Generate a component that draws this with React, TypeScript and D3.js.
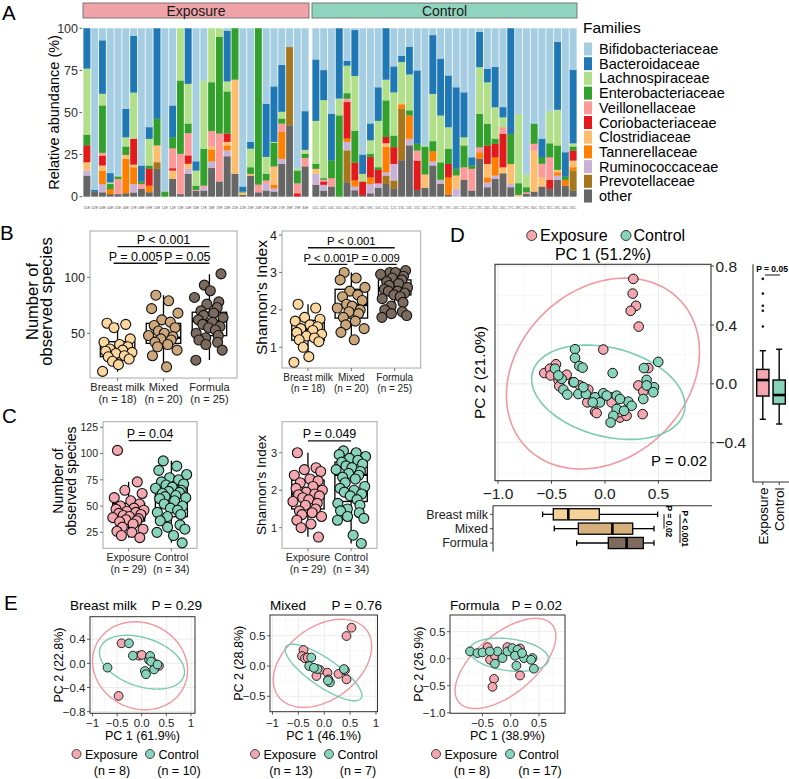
import React from "react";
import * as d3 from "d3";

const FONT = "'Liberation Sans', Arimo, Arial, Helvetica, sans-serif";

/* ================= Panel A data ================= */
const families = [
  "Bifidobacteriaceae", "Bacteroidaceae", "Lachnospiraceae", "Enterobacteriaceae",
  "Veillonellaceae", "Coriobacteriaceae", "Clostridiaceae", "Tannerellaceae",
  "Ruminococcaceae", "Prevotellaceae", "other",
];
const familyColors = [
  "#A6CEE3", "#1F78B4", "#B2DF8A", "#33A02C", "#FB9A99", "#E31A1C",
  "#FDBF6F", "#FF7F00", "#CAB2D6", "#A6761D", "#666666",
];
// stacking order (bottom -> top) = reversed legend order
const stackOrder = [...families].reverse();

const exposureSamples = [
  "01E", "02E", "03E", "04E", "05E", "06E", "07E", "08E", "09E", "10E", "11E", "12E", "13E", "14E",
  "16E", "17E", "18E", "19E", "20E", "21E", "22E", "23E", "24E", "25E", "26E", "27E", "28E", "29E", "30E",
];
const controlSamples = [
  "01C", "02C", "04C", "05C", "06C", "07C", "08C", "09C", "10C", "11C", "12C", "13C", "14C", "15C",
  "16C", "17C", "18C", "19C", "20C", "21C", "22C", "23C", "24C", "25C", "26C", "27C", "28C", "29C",
  "30C", "31C", "32C", "33C", "34C", "35C",
];
// each row: other, Prevotellaceae, Ruminococcaceae, Tannerellaceae, Clostridiaceae,
// Coriobacteriaceae, Veillonellaceae, Enterobacteriaceae, Lachnospiraceae, Bacteroidaceae, Bifidobacteriaceae
const exposureAbundance = [
  [12.5, 0, 3, 0, 5, 10, 0, 6.3, 39.3, 23.9, 0],
  [3, 0, 0, 0, 0, 0, 0, 0, 0, 1, 96],
  [2.6, 0, 4.9, 8, 3, 5.9, 1.6, 28.2, 6.9, 31.8, 7.1],
  [1.5, 0, 0, 3, 0, 0, 0, 3, 1, 5.5, 86],
  [1.5, 0, 0, 0, 0, 0, 9, 1.5, 0.5, 0, 87.5],
  [2, 0, 0, 20.4, 2.4, 0, 0, 5, 5.5, 16.9, 47.8],
  [2.5, 0, 5, 10, 1.5, 15.3, 0, 0, 27.5, 33.8, 4.4],
  [4.6, 0, 0, 0, 0, 0, 2.9, 1.5, 0, 9.5, 81.5],
  [2.6, 0, 0, 3.9, 0, 10, 0, 2, 15.8, 7, 58.7],
  [16.5, 4, 0, 0, 10, 0, 0, 15.8, 0, 53.7, 0],
  [0, 0, 0, 0, 0, 0, 0, 3, 0, 0, 97],
  [10.5, 0, 0, 0, 5, 1.4, 11.9, 6.5, 0, 18.9, 45.8],
  [1.5, 0, 0, 0, 0, 0, 23.9, 43.6, 31, 0, 0],
  [13.5, 0, 3, 0, 3, 5, 13.3, 5.6, 23.6, 33, 0],
  [3.5, 0, 0, 0, 0, 0, 0.5, 2.5, 9, 5.5, 79],
  [3.6, 0, 2, 0, 0, 0, 1, 21.8, 40.6, 0, 31],
  [17, 0, 4, 7, 2, 0, 9, 29, 32, 0, 0],
  [9, 0, 0, 0, 0, 0, 28.5, 57.5, 5, 0, 0],
  [24, 0, 3.5, 3, 2, 5, 0, 25, 6, 30, 1.5],
  [13.5, 0, 0, 0, 56, 0, 0, 30.5, 0, 0, 0],
  [1, 0, 0, 0, 1.5, 0, 0, 0.5, 0, 3, 94],
  [12.5, 0, 0, 0, 1, 0, 0, 4, 11, 4, 67.5],
  [2.6, 0, 0, 0, 0, 0, 4.5, 92.9, 0, 0, 0],
  [3.6, 0, 4, 0, 0, 0, 2, 4, 10, 31.5, 44.9],
  [3, 0, 2, 2, 10.5, 0, 0.5, 14, 0.5, 33, 34.5],
  [19.4, 0, 3, 16, 0, 0, 5, 3, 4, 27.8, 21.8],
  [42.3, 46.6, 0, 0, 0, 0, 0, 0, 0, 0, 11.1],
  [0, 0, 0, 0, 0, 2, 6, 7.5, 1, 0, 83.5],
  [18, 0, 0, 0, 0, 0, 5, 2.4, 2.4, 23, 49.2],
];
const controlAbundance = [
  [7, 0, 6.5, 0, 3, 0, 0, 3, 25.5, 36.5, 18.5],
  [3.5, 0, 3.5, 0, 0, 2, 1, 1, 46.4, 17.8, 24.8],
  [6, 0, 0, 0, 0, 0, 5, 10.5, 0, 27.8, 50.7],
  [0, 0, 0, 0, 0, 0, 0, 48.3, 10, 41.7, 0],
  [8.5, 19, 5, 2, 0, 21.7, 2, 3.3, 16.3, 2.8, 19.4],
  [3.8, 0, 2.2, 3.7, 0, 10.5, 0, 19, 32.5, 27.3, 1],
  [1, 0, 0, 0, 0, 8, 0, 0, 4.5, 11.5, 75],
  [2, 0, 5.5, 4, 0, 12, 0, 2, 8, 10, 56.5],
  [5.2, 0, 2.7, 0, 0, 8, 0, 1.6, 27.5, 20, 35],
  [7.5, 5, 2, 15, 2.3, 3.6, 0, 21.8, 12.3, 30.5, 0],
  [4.6, 4.9, 9.9, 0, 0, 10, 0, 6.9, 25.7, 15.4, 22.6],
  [21.6, 30.8, 0, 2.5, 0.5, 0, 0, 0, 24.6, 3.6, 16.4],
  [30.5, 0, 3.8, 14, 0, 0, 0, 3, 21.3, 16.5, 10.9],
  [4, 0, 0, 0, 0, 17.4, 6, 4, 0, 43.6, 25],
  [5.2, 0, 0, 0, 8, 0, 0, 16.5, 0.5, 0, 69.8],
  [18.5, 0, 2.5, 6, 0, 0, 0, 6, 28, 35, 4],
  [7.5, 0, 2.5, 0, 0, 0, 0, 10.4, 27.8, 33.8, 18],
  [1.2, 0, 0, 10.3, 0, 7.9, 0, 9, 12.9, 30.7, 28],
  [0, 0, 4.6, 0, 8, 0, 0, 4, 0, 48.4, 35],
  [9.9, 0, 0, 0, 0, 0, 7.6, 12.9, 4.9, 26.7, 38],
  [3.6, 0, 0, 0, 0, 0, 12.9, 2, 0, 4.9, 76.6],
  [22.4, 0, 0, 4, 0, 0, 3, 19.8, 27.8, 20.8, 2.2],
  [5.6, 0, 2.9, 3, 7.9, 11, 0, 12.9, 24.7, 8, 24],
  [10.5, 0, 2, 10.9, 0, 7.9, 0, 3, 18.9, 23.8, 23],
  [13.9, 0, 0, 0, 3.6, 19.8, 4, 0, 5.9, 6, 46.8],
  [5.6, 0, 1.9, 0, 11.9, 0, 0, 17.9, 0, 62.7, 0],
  [0, 0, 0, 0, 1, 0, 0, 7, 41, 0, 51],
  [1.6, 0, 0, 0, 0, 0, 1, 3, 7.5, 0, 86.9],
  [3, 0, 0, 0, 24.4, 0, 4, 12, 0, 0, 56.6],
  [6, 0, 0, 0, 5.5, 0, 8, 4, 0, 10.9, 65.6],
  [4.6, 0, 0, 0, 0, 5.3, 13.5, 8.3, 19, 0, 49.3],
  [9.9, 0, 2.6, 2, 1.4, 0, 0, 14.5, 21.2, 40.3, 8.1],
  [6.5, 0, 0, 3.4, 0, 0, 0, 2, 0, 14.5, 73.6],
  [3.6, 11.9, 0, 2, 3.9, 6, 0, 2.4, 1.9, 43.7, 24.6],
];
const abundanceTicks = [0, 25, 50, 75, 100];

/* ================= Groups / colours ================= */
const groupNames = ["Exposure", "Control"];
const groupColors = ["#F4A7AF", "#88D3BC"];
const ellipseColors = ["#F1979F", "#79CBB2"];
const stripColors = ["#F0A3A8", "#8FD4BE"];
const dietGroups = ["Breast milk", "Mixed", "Formula"];
const dietN = ["(n = 18)", "(n = 20)", "(n = 25)"];
const groupN = ["(n = 29)", "(n = 34)"];
const dietPointColors = ["#FDD89E", "#CCA77B", "#7B6A5E"];
const dietBoxColors = ["#F6D29A", "#D5AF7C", "#7F6B5E"];

/* ================= Panel B data ================= */
const obsBreastMilk = [59, 58, 55, 45, 42, 40, 38, 36, 35, 34, 33, 32, 30, 29, 27, 25, 22, 16];
const obsMixed = [84, 79, 72, 68, 62, 60, 57, 55, 52, 50, 48, 47, 45, 44, 42, 40, 38, 35, 30, 20];
const obsFormula = [103, 93, 88, 82, 78, 76, 73, 70, 68, 66, 64, 62, 60, 58, 56, 55, 53, 50, 48, 46, 44, 42, 40, 35, 26];
const obsDietStats = [
  [15.7, 29.1, 33.6, 42.5, 59.2],
  [20.2, 41, 46, 58.9, 84],
  [26.2, 47.9, 61, 68.8, 102.7],
];
const shanBreastMilk = [2.15, 2.05, 1.8, 1.75, 1.7, 1.6, 1.55, 1.5, 1.45, 1.4, 1.35, 1.3, 1.25, 1.2, 1.15, 1.0, 0.75, 0.6];
const shanMixed = [3.0, 2.85, 2.8, 2.6, 2.5, 2.4, 2.35, 2.25, 2.15, 2.1, 2.05, 2.0, 1.95, 1.9, 1.8, 1.7, 1.6, 1.5, 1.4, 1.2];
const shanFormula = [3.05, 3.0, 3.0, 2.95, 2.9, 2.85, 2.8, 2.75, 2.7, 2.65, 2.6, 2.55, 2.5, 2.5, 2.45, 2.4, 2.35, 2.3, 2.2, 2.1, 2.0, 1.95, 1.9, 1.85, 1.8];
const shanDietStats = [
  [0.62, 1.19, 1.46, 1.72, 2.15],
  [1.2, 1.78, 2.13, 2.55, 3.0],
  [1.8, 2.4, 2.53, 2.8, 3.05],
];

/* ================= Panel C data ================= */
const obsExposure = [103, 73, 65, 62, 58, 55, 52, 50, 48, 47, 46, 45, 44, 43, 42, 41, 40, 39, 38, 37, 36, 35, 33, 30, 28, 26, 25, 22, 20];
const obsControl = [93, 88, 84, 80, 77, 75, 73, 71, 70, 68, 67, 65, 64, 63, 62, 60, 59, 58, 57, 55, 52, 50, 48, 46, 44, 42, 40, 36, 32, 30, 28, 25, 22, 15];
const obsGroupStats = [
  [19.9, 35.7, 42.5, 52.6, 73],
  [15.1, 39.9, 58, 69.4, 93.2],
];
const shanExposure = [3.0, 2.6, 2.55, 2.5, 2.4, 2.3, 2.25, 2.2, 2.1, 2.05, 2.0, 1.95, 1.9, 1.88, 1.85, 1.8, 1.75, 1.7, 1.65, 1.6, 1.5, 1.45, 1.4, 1.35, 1.3, 1.2, 1.1, 1.0, 0.75];
const shanControl = [3.05, 3.0, 2.95, 2.9, 2.85, 2.8, 2.75, 2.7, 2.65, 2.6, 2.55, 2.5, 2.45, 2.4, 2.35, 2.3, 2.2, 2.1, 2.05, 2.0, 1.95, 1.9, 1.85, 1.75, 1.65, 1.6, 1.5, 1.45, 1.4, 1.3, 1.25, 1.2, 0.8, 0.58];
const shanGroupStats = [
  [0.76, 1.5, 1.89, 2.27, 3.0],
  [0.58, 1.7, 2.41, 2.75, 3.03],
];
// horizontal jitter offsets (fraction of half spread)
const jitterOffsets = [-0.62, 0.48, -0.21, 0.75, -0.8, 0.12, 0.6, -0.45, 0.3, -0.7, 0.85, -0.1, 0.4, -0.55, 0.68, -0.3, 0.05, -0.88, 0.55, -0.15, 0.45, -0.5, 0.25, -0.35, 0.8, -0.65, 0.18, -0.4, 0.62, -0.05, 0.35, -0.78, 0.52, -0.22];

/* ================= Panel D data ================= */
const dExposurePC1 = [0.265, 0.259, 0.29, 0.24, 0.315, -0.016, -0.567, -0.514, -0.458, -0.508, -0.433, -0.358, -0.427, -0.156, -0.165, -0.093, -0.078, 0.072, 0.14, 0.202, 0.352, 0.312, 0.358, 0.405, -0.234, -0.296, 0.062, -0.047, 0.125];
const dExposurePC2 = [0.713, 0.613, 0.53, 0.496, 0.389, 0.233, 0.073, 0.103, 0.133, 0.057, 0.023, 0.062, -0.016, -0.039, -0.126, -0.19, -0.199, -0.091, -0.229, -0.217, -0.206, -0.011, -0.053, 0.107, -0.011, 0.011, -0.126, -0.114, -0.194];
const dControlPC1 = [-0.28, -0.28, -0.24, -0.209, 0.072, 0.498, 0.364, 0.389, 0.458, 0.452, 0.358, -0.467, -0.405, -0.389, -0.352, -0.29, -0.249, -0.178, -0.093, -0.016, 0.016, 0.109, -0.047, 0.109, 0.078, 0.053, 0.218, 0.249, 0.178, -0.115, -0.436, -0.202, 0.14, 0.389];
const dControlPC2 = [0.235, 0.176, 0.121, 0.11, 0.073, 0.149, 0.107, 0.027, -0.023, -0.057, -0.103, 0.103, 0.034, -0.039, -0.073, 0.011, -0.069, -0.069, -0.091, -0.064, -0.08, -0.08, -0.126, -0.171, -0.217, -0.263, -0.121, -0.149, -0.183, -0.126, 0.057, -0.023, -0.103, -0.011];
// ellipse: [centre x, centre y, u x, u y, v x, v y] (conjugate semi-diameters, data units)
const dEllipseExposure = [-0.019, 0.07, 0.719, 0.499, 0.545, -0.414];
const dEllipseControl = [0.031, -0.057, 0.709, -0.134, -0.105, -0.291];
const dPC2Stats = [
  [-0.241, -0.083, 0.026, 0.098, 0.225],
  [-0.273, -0.137, -0.076, 0.026, 0.235],
];
const dPC2Outliers = [[0.389, 0.496, 0.53, 0.613, 0.713], []];
const dPC1DietStats = [
  [-0.583, -0.483, -0.343, -0.053, 0.492],
  [-0.474, -0.249, 0.069, 0.259, 0.458],
  [-0.265, 0.031, 0.202, 0.358, 0.458],
];

/* ================= Panel E data ================= */
const e1ExposurePC1 = [-0.41, -0.47, -0.056, 0.0, 0.29, 0.35, 0.21, 0.27];
const e1ExposurePC2 = [0.333, -0.54, 0.128, 0.14, -0.02, -0.04, 0.03, -0.05];
const e1ControlPC1 = [-0.26, -0.695, -0.18, 0.147, 0.17, 0.064, 0.085, 0.25, 0.19, 0.32];
const e1ControlPC2 = [0.333, -0.07, 0.128, 0.056, 0.123, -0.126, -0.18, -0.1, 0.03, -0.02];
const e2ExposurePC1 = [0.527, 0.43, -0.4, -0.43, -0.372, -0.32, -0.08, -0.15, 0.063, 0.08, 0.275, 0.43, 0.4];
const e2ExposurePC2 = [0.632, 0.495, 0.264, 0.165, 0.127, 0.14, -0.066, -0.165, -0.11, -0.22, -0.13, -0.22, -0.07];
const e2ControlPC1 = [-0.25, -0.29, -0.13, 0.11, 0.07, 0.38, -0.2];
const e2ControlPC2 = [0.14, 0.0, -0.05, -0.27, -0.24, -0.05, -0.03];
const e3ExposurePC1 = [-0.41, -0.367, -0.279, -0.06, 0.164, 0.164, -0.296, -0.323];
const e3ExposurePC2 = [0.215, -0.018, 0.056, 0.215, 0.19, -0.31, -0.374, -0.52];
const e3ControlPC1 = [-0.72, -0.59, -0.5, -0.235, -0.146, -0.058, 0.03, 0.12, 0.075, 0.1, 0.235, 0.2, 0.385, 0.41, 0.36, -0.28, -0.37];
const e3ControlPC2 = [0.135, 0.104, 0.116, 0.135, 0.012, 0.135, 0.196, 0.166, 0.056, -0.129, 0.012, 0.104, 0.012, -0.184, -0.02, -0.092, 0.135];
const e1Ellipses = [[-0.035, -0.04, 0.96, 0.0, -0.1, 0.73], [0.005, 0.02, 0.86, -0.12, -0.08, 0.43]];
const e2Ellipses = [[-0.034, 0.045, 0.92, 0.1, 0.24, 0.72], [-0.014, -0.107, 0.725, -0.426, -0.153, -0.19]];
const e3Ellipses = [[-0.093, -0.088, 0.82, 0.2, 0.35, 0.81], [-0.031, 0.0735, 0.7, -0.1, 0.05, 0.29]];
const eTitles = ["Breast milk", "Mixed", "Formula"];
const ePValues = ["P = 0.29", "P = 0.76", "P = 0.02"];
const ePC1Labels = ["PC 1 (61.9%)", "PC 1 (46.1%)", "PC 1 (38.9%)"];
const ePC2Labels = ["PC 2 (22.8%)", "PC 2 (28.8%)", "PC 2 (26.9%)"];
const eNLabels = [["(n = 8)", "(n = 10)"], ["(n = 13)", "(n = 7)"], ["(n = 8)", "(n = 17)"]];
const eXTicks = [[-1, -0.5, 0, 0.5, 1], [-1, -0.5, 0, 0.5, 1], [-0.5, 0, 0.5]];
const eXTickLabels = [["−1", "−0.5", "0.0", "0.5", "1"], ["−1", "−0.5", "0.0", "0.5", "1"], ["−0.5", "0.0", "0.5"]];
const eYTicks = [[-0.8, -0.4, 0, 0.4], [-0.5, 0, 0.5], [-1, -0.5, 0, 0.5]];
const eYTickLabels = [["−0.8", "−0.4", "0.0", "0.4"], ["−0.5", "0.0", "0.5"], ["−1.0", "−0.5", "0.0", "0.5"]];

/* ================= helpers ================= */
function ellipsePath(e: number[], xs: any, ys: any) {
  const ts = d3.range(0, 145).map((i) => (i / 144) * 2 * Math.PI);
  const line = d3
    .line<number>()
    .x((t) => xs(e[0] + e[2] * Math.cos(t) + e[4] * Math.sin(t)))
    .y((t) => ys(e[1] + e[3] * Math.cos(t) + e[5] * Math.sin(t)))
    .curve(d3.curveLinearClosed);
  return line(ts) || "";
}

function midTicks(ticks: number[], domain: number[]) {
  const step = ticks[1] - ticks[0];
  const all = [ticks[0] - step / 2, ...ticks.map((t) => t + step / 2)];
  const lo = Math.min(domain[0], domain[1]);
  const hi = Math.max(domain[0], domain[1]);
  return all.filter((t) => t > lo && t < hi);
}

function VBox({ cx, w, stats, y, fill, lw = 1.2, medW = 2.4, caps = false }: any) {
  const [lo, q1, md, q3, hi] = stats;
  return (
    <g stroke="#000" strokeWidth={lw}>
      <line x1={cx} x2={cx} y1={y(lo)} y2={y(q1)} />
      <line x1={cx} x2={cx} y1={y(q3)} y2={y(hi)} />
      {caps && <line x1={cx - w / 4} x2={cx + w / 4} y1={y(lo)} y2={y(lo)} />}
      {caps && <line x1={cx - w / 4} x2={cx + w / 4} y1={y(hi)} y2={y(hi)} />}
      <rect x={cx - w / 2} y={y(q3)} width={w} height={y(q1) - y(q3)} fill={fill} />
      <line x1={cx - w / 2} x2={cx + w / 2} y1={y(md)} y2={y(md)} strokeWidth={medW} />
    </g>
  );
}

function HBox({ cy, h, stats, x, fill, lw = 1.2, medW = 2.4 }: any) {
  const [lo, q1, md, q3, hi] = stats;
  return (
    <g stroke="#000" strokeWidth={lw}>
      <line y1={cy} y2={cy} x1={x(lo)} x2={x(q1)} />
      <line y1={cy} y2={cy} x1={x(q3)} x2={x(hi)} />
      <line y1={cy - h / 4} y2={cy + h / 4} x1={x(lo)} x2={x(lo)} />
      <line y1={cy - h / 4} y2={cy + h / 4} x1={x(hi)} x2={x(hi)} />
      <rect y={cy - h / 2} x={x(q1)} height={h} width={x(q3) - x(q1)} fill={fill} />
      <line y1={cy - h / 2} y2={cy + h / 2} x1={x(md)} x2={x(md)} strokeWidth={medW} />
    </g>
  );
}

/* ================= Panel A ================= */
const yA = d3.scaleLinear().domain([0, 100]).range([196.6, 28.3]);

function Facet({ samples, rows, x0, x1, label, fill }: any) {
  const xs = d3.scaleBand().domain(samples).range([x0, x1]).paddingInner(0.13).paddingOuter(0.06);
  const data = rows.map((r: number[]) => {
    const o: any = {};
    stackOrder.forEach((k, j) => (o[k] = r[j]));
    return o;
  });
  const series = d3.stack().keys(stackOrder)(data);
  const bw = xs.bandwidth();
  return (
    <g>
      <rect x={x0} y={3} width={x1 - x0} height={15} fill={fill} stroke="#6E6E6E" strokeWidth={0.9} />
      <text x={(x0 + x1) / 2} y={15.6} textAnchor="middle" fontSize={14} fill="#1a1a1a">
        {label}
      </text>
      {series.map((s: any) => {
        const c = familyColors[families.indexOf(s.key)];
        return (
          <g key={s.key} fill={c} stroke={c} strokeWidth={0.2}>
            {s.map((d: any, i: number) =>
              d[1] > d[0] ? (
                <rect key={i} x={xs(samples[i])} y={yA(d[1])} width={bw} height={yA(d[0]) - yA(d[1])} />
              ) : null
            )}
          </g>
        );
      })}
      {samples.map((s: string) => (
        <text key={s} x={(xs(s) as number) + bw / 2} y={209} fontSize={3.6} textAnchor="middle" fill="#555">
          {s}
        </text>
      ))}
    </g>
  );
}

function PanelA() {
  return (
    <g>
      <text x={2} y={20} fontSize={20.5}>A</text>
      <text transform={`translate(59,${(yA(0) + yA(100)) / 2}) rotate(-90)`} textAnchor="middle" fontSize={14.5}>
        Relative abundance (%)
      </text>
      {abundanceTicks.map((t) => (
        <g key={t}>
          <line x1={79.5} x2={82} y1={yA(t)} y2={yA(t)} stroke="#333" strokeWidth={0.8} />
          <text x={78} y={yA(t)} dy="0.36em" textAnchor="end" fontSize={12.5} fill="#333">
            {t}
          </text>
        </g>
      ))}
      <Facet samples={exposureSamples} rows={exposureAbundance} x0={83} x1={309} label="Exposure" fill={stripColors[0]} />
      <Facet samples={controlSamples} rows={controlAbundance} x0={312} x1={577} label="Control" fill={stripColors[1]} />
      <text x={583} y={33} fontSize={15.5}>Families</text>
      {families.map((f, i) => (
        <g key={f}>
          <rect x={584} y={49 + i * 14.7 - 6.5} width={8} height={13} fill={familyColors[i]} />
          <text x={599} y={49 + i * 14.7 + 5} fontSize={14.5}>
            {f}
          </text>
        </g>
      ))}
    </g>
  );
}

/* ================= Box + jitter panel (B, C) ================= */
function BoxJitter(p: any) {
  const f = p.frame;
  const x = d3.scalePoint().domain(p.groups).range([f.x0, f.x1]).padding(0.6);
  const y = d3.scaleLinear().domain(p.yDomain).range([f.y1, f.y0]);
  const w = x.step() * 0.75;
  const yc = (f.y0 + f.y1) / 2 + (p.titleShift || 0);
  return (
    <g>
      <rect x={f.x0} y={f.y0} width={f.x1 - f.x0} height={f.y1 - f.y0} fill="#fff" stroke="#A8A8A8" strokeWidth={1} />
      {p.yTicks.map((t: number) => (
        <g key={t}>
          <line x1={f.x0 - 3} x2={f.x0} y1={y(t)} y2={y(t)} stroke="#555" strokeWidth={0.8} />
          <text x={f.x0 - 5} y={y(t)} dy="0.36em" textAnchor="end" fontSize={p.tickFont} fill="#222">
            {t}
          </text>
        </g>
      ))}
      {p.groups.map((g: string, i: number) => (
        <g key={g}>
          <line x1={x(g)} x2={x(g)} y1={f.y1} y2={f.y1 + 3} stroke="#555" strokeWidth={0.8} />
          <text x={x(g)} y={f.y1 + p.catDy[0]} textAnchor="middle" fontSize={p.catFont} fill="#222">
            {g}
          </text>
          <text x={x(g)} y={f.y1 + p.catDy[1]} textAnchor="middle" fontSize={p.catFont} fill="#222">
            {p.subLabels[i]}
          </text>
        </g>
      ))}
      {p.stats.map((s: number[], i: number) => (
        <VBox key={i} cx={x(p.groups[i])} w={w} stats={s} y={y} fill="#fff" lw={1.3} medW={2.4} />
      ))}
      {p.points.map((arr: number[], i: number) =>
        arr.map((v: number, j: number) => (
          <circle
            key={i + "-" + j}
            cx={(x(p.groups[i]) as number) + jitterOffsets[(j + i * 7) % jitterOffsets.length] * p.jw}
            cy={y(v)}
            r={p.r}
            fill={p.fills[i]}
            stroke="#111"
            strokeWidth={1.1}
          />
        ))
      )}
      {p.brackets.map((b: any, k: number) => {
        const xa = (x(b.from) as number) + b.dx[0];
        const xb = (x(b.to) as number) + b.dx[1];
        return (
          <g key={k}>
            <line x1={xa} x2={xb} y1={y(b.y)} y2={y(b.y)} stroke="#111" strokeWidth={1.3} />
            <text x={(xa + xb) / 2} y={y(b.y) - 2.6} textAnchor="middle" fontSize={p.pFont}>
              {b.label}
            </text>
          </g>
        );
      })}
      {p.titleLines.map((t: string, k: number) => (
        <text key={k} transform={`translate(${p.titleX[k]},${yc}) rotate(-90)`} textAnchor="middle" fontSize={p.titleFont}>
          {t}
        </text>
      ))}
    </g>
  );
}

function PanelB() {
  return (
    <g>
      <text x={0} y={240} fontSize={20.5}>B</text>
      <BoxJitter
        frame={{ x0: 90, x1: 237, y0: 231, y1: 378 }}
        groups={dietGroups}
        subLabels={dietN}
        yDomain={[10.1, 141.3]}
        yTicks={[50, 100]}
        stats={obsDietStats}
        points={[obsBreastMilk, obsMixed, obsFormula]}
        fills={dietPointColors}
        jw={17}
        r={5}
        tickFont={12.5}
        catFont={11}
        catDy={[12.5, 25]}
        pFont={12.5}
        brackets={[
          { from: "Breast milk", to: "Mixed", y: 112.5, label: "P = 0.005", dx: [-4, -6] },
          { from: "Mixed", to: "Formula", y: 112.5, label: "P = 0.05", dx: [1.5, 0] },
          { from: "Breast milk", to: "Formula", y: 127.3, label: "P < 0.001", dx: [0, 0] },
        ]}
        titleLines={["Number of", "observed species"]}
        titleX={[37.5, 52]}
        titleFont={16.5}
        titleShift={-3}
      />
      <BoxJitter
        frame={{ x0: 282, x1: 420.7, y0: 231, y1: 368 }}
        groups={dietGroups}
        subLabels={dietN}
        yDomain={[0.447, 4.107]}
        yTicks={[1, 2, 3, 4]}
        stats={shanDietStats}
        points={[shanBreastMilk, shanMixed, shanFormula]}
        fills={dietPointColors}
        jw={16}
        r={5}
        tickFont={12.5}
        catFont={10}
        catDy={[12.5, 24]}
        pFont={11.3}
        brackets={[
          { from: "Breast milk", to: "Mixed", y: 3.217, label: "P < 0.001", dx: [0, -4] },
          { from: "Mixed", to: "Formula", y: 3.217, label: "P = 0.009", dx: [3, 2] },
          { from: "Breast milk", to: "Formula", y: 3.66, label: "P < 0.001", dx: [0, 0] },
        ]}
        titleLines={["Shannon's Index"]}
        titleX={[267]}
        titleFont={15.5}
        titleShift={-2}
      />
    </g>
  );
}

function PanelC() {
  return (
    <g>
      <text x={2} y={423} fontSize={20.5}>C</text>
      <BoxJitter
        frame={{ x0: 103, x1: 197, y0: 421.7, y1: 548.3 }}
        groups={groupNames}
        subLabels={groupN}
        yDomain={[9.8, 130.3]}
        yTicks={[25, 50, 75, 100, 125]}
        stats={obsGroupStats}
        points={[obsExposure, obsControl]}
        fills={groupColors}
        jw={18}
        r={5}
        tickFont={10.5}
        catFont={10.5}
        catDy={[12.5, 25]}
        pFont={12.5}
        brackets={[{ from: "Exposure", to: "Control", y: 112.2, label: "P = 0.04", dx: [0, 0] }]}
        titleLines={["Number of", "observed species"]}
        titleX={[63, 76]}
        titleFont={14}
        titleShift={-4}
      />
      <BoxJitter
        frame={{ x0: 282, x1: 377, y0: 421.7, y1: 548.3 }}
        groups={groupNames}
        subLabels={groupN}
        yDomain={[0.45, 3.83]}
        yTicks={[1, 2, 3]}
        stats={shanGroupStats}
        points={[shanExposure, shanControl]}
        fills={groupColors}
        jw={17}
        r={5}
        tickFont={11}
        catFont={10.5}
        catDy={[12.5, 25]}
        pFont={12.5}
        brackets={[{ from: "Exposure", to: "Control", y: 3.32, label: "P = 0.049", dx: [0, 0] }]}
        titleLines={["Shannon's Index"]}
        titleX={[266]}
        titleFont={13.5}
        titleShift={0}
      />
    </g>
  );
}

/* ================= Panel D ================= */
function PanelD() {
  const f = { x0: 495, x1: 711, y0: 264.3, y1: 480.7 };
  const x = d3.scaleLinear().domain([-1.028, 0.991]).range([f.x0, f.x1]);
  const y = d3.scaleLinear().domain([-0.658, 0.812]).range([f.y1, f.y0]);
  const fmt = d3.format(".1f");
  const xMajor = [-1, -0.5, 0, 0.5];
  const yMajor = [-0.4, 0, 0.4, 0.8];
  const xMinor = midTicks(xMajor, x.domain());
  const yMinor = midTicks(yMajor, y.domain());
  const xr = d3.scalePoint().domain(groupNames).range([753, 789]).padding(0.6);
  const wr = xr.step() * 0.75;
  const yb = d3.scalePoint().domain(dietGroups).range([505.7, 551.6]).padding(0.6);
  const hb = yb.step() * 0.78;
  const bm = yb("Breast milk") as number;
  const mx = yb("Mixed") as number;
  const fo = yb("Formula") as number;
  return (
    <g>
      <text x={450} y={242} fontSize={20.5}>D</text>
      <circle cx={531.7} cy={235.5} r={5} fill={groupColors[0]} stroke="#333" strokeWidth={1} />
      <text x={540} y={241} fontSize={16}>Exposure</text>
      <circle cx={626} cy={235.5} r={5} fill={groupColors[1]} stroke="#333" strokeWidth={1} />
      <text x={633.5} y={241} fontSize={16}>Control</text>
      <text x={(f.x0 + f.x1) / 2} y={259.5} textAnchor="middle" fontSize={16}>
        PC 1 (51.2%)
      </text>
      <rect x={f.x0} y={f.y0} width={f.x1 - f.x0} height={f.y1 - f.y0} fill="#fff" />
      {xMinor.map((t) => (
        <line key={"xm" + t} x1={x(t)} x2={x(t)} y1={f.y0} y2={f.y1} stroke="#F3F3F3" strokeWidth={0.6} />
      ))}
      {yMinor.map((t) => (
        <line key={"ym" + t} y1={y(t)} y2={y(t)} x1={f.x0} x2={f.x1} stroke="#F3F3F3" strokeWidth={0.6} />
      ))}
      {xMajor.map((t) => (
        <line key={"xM" + t} x1={x(t)} x2={x(t)} y1={f.y0} y2={f.y1} stroke="#EAEAEA" strokeWidth={1} />
      ))}
      {yMajor.map((t) => (
        <line key={"yM" + t} y1={y(t)} y2={y(t)} x1={f.x0} x2={f.x1} stroke="#EAEAEA" strokeWidth={1} />
      ))}
      <path d={ellipsePath(dEllipseExposure, x, y)} fill="none" stroke={ellipseColors[0]} strokeWidth={1.6} />
      <path d={ellipsePath(dEllipseControl, x, y)} fill="none" stroke={ellipseColors[1]} strokeWidth={1.6} />
      {dExposurePC1.map((v, i) => (
        <circle key={"e" + i} cx={x(v)} cy={y(dExposurePC2[i])} r={4.8} fill={groupColors[0]} stroke="#111" strokeWidth={1} />
      ))}
      {dControlPC1.map((v, i) => (
        <circle key={"c" + i} cx={x(v)} cy={y(dControlPC2[i])} r={4.8} fill={groupColors[1]} stroke="#111" strokeWidth={1} />
      ))}
      <rect x={f.x0} y={f.y0} width={f.x1 - f.x0} height={f.y1 - f.y0} fill="none" stroke="#333" strokeWidth={1.1} />
      {yMajor.map((t) => (
        <g key={"yt" + t}>
          <line x1={f.x1} x2={f.x1 + 3} y1={y(t)} y2={y(t)} stroke="#333" strokeWidth={0.9} />
          <text x={f.x1 + 4.5} y={y(t)} dy="0.36em" fontSize={15.5} fill="#222">
            {fmt(t)}
          </text>
        </g>
      ))}
      {xMajor.map((t) => (
        <g key={"xt" + t}>
          <line x1={x(t)} x2={x(t)} y1={f.y1} y2={f.y1 + 3} stroke="#333" strokeWidth={0.9} />
          <text x={x(t)} y={498.5} textAnchor="middle" fontSize={15.5} fill="#222">
            {fmt(t)}
          </text>
        </g>
      ))}
      <text transform={`translate(485,${(f.y0 + f.y1) / 2}) rotate(-90)`} textAnchor="middle" fontSize={15.5}>
        PC 2 (21.0%)
      </text>
      <text x={707} y={466} textAnchor="end" fontSize={15}>
        P = 0.02
      </text>

      {/* right marginal: PC2 by group */}
      <line x1={753} x2={753} y1={f.y0} y2={482} stroke="#333" strokeWidth={1.1} />
      <line x1={753} x2={789} y1={482} y2={482} stroke="#333" strokeWidth={1.1} />
      {groupNames.map((g, i) => (
        <g key={g}>
          <VBox cx={xr(g)} w={wr} stats={dPC2Stats[i]} y={y} fill={groupColors[i]} lw={1.4} medW={2.6} caps={true} />
          {dPC2Outliers[i].map((v, j) => (
            <circle key={j} cx={xr(g)} cy={y(v)} r={1.3} fill="#111" />
          ))}
          <line x1={xr(g)} x2={xr(g)} y1={482} y2={485} stroke="#333" strokeWidth={0.9} />
          <text transform={`translate(${(xr(g) as number) + 4.8},487.5) rotate(-90)`} textAnchor="end" fontSize={13.5}>
            {g}
          </text>
        </g>
      ))}
      <line x1={765} x2={780} y1={275} y2={275} stroke="#111" strokeWidth={1} />
      <text x={772} y={272} textAnchor="middle" fontSize={8.5} fontWeight="bold">
        P = 0.05
      </text>

      {/* bottom marginal: PC1 by diet */}
      <line x1={493} x2={712} y1={505.7} y2={505.7} stroke="#333" strokeWidth={1.1} />
      <line x1={493} x2={493} y1={505.7} y2={551.6} stroke="#333" strokeWidth={1.1} />
      {dietGroups.map((g, i) => (
        <g key={g}>
          <HBox cy={yb(g)} h={hb} stats={dPC1DietStats[i]} x={x} fill={dietBoxColors[i]} lw={1.3} medW={2.6} />
          <line x1={490} x2={493} y1={yb(g)} y2={yb(g)} stroke="#333" strokeWidth={0.9} />
          <text x={488} y={yb(g)} dy="0.36em" textAnchor="end" fontSize={12.5} fill="#222">
            {g}
          </text>
        </g>
      ))}
      <line x1={664} x2={664} y1={bm} y2={mx} stroke="#111" strokeWidth={1} />
      <text transform={`translate(665.8,${(bm + mx) / 2}) rotate(90)`} textAnchor="middle" fontSize={8.5} fontWeight="bold">
        P = 0.02
      </text>
      <line x1={680} x2={680} y1={bm} y2={fo} stroke="#111" strokeWidth={1} />
      <text transform={`translate(681.8,${(bm + fo) / 2}) rotate(90)`} textAnchor="middle" fontSize={8.5} fontWeight="bold">
        P &lt; 0.001
      </text>
    </g>
  );
}

/* ================= Panel E ================= */
function PcaPanel({ cfg }: any) {
  const f = cfg.frame;
  const x = d3.scaleLinear().domain(cfg.xDomain).range([f.x0, f.x1]);
  const y = d3.scaleLinear().domain(cfg.yDomain).range([f.y1, f.y0]);
  const xMinor = midTicks(cfg.xTicks, cfg.xDomain);
  const yMinor = midTicks(cfg.yTicks, cfg.yDomain);
  return (
    <g>
      <text x={cfg.titleX[0]} y={610} fontSize={13.5}>{cfg.title}</text>
      <text x={cfg.titleX[1]} y={610} fontSize={13.5} textAnchor="end">{cfg.pval}</text>
      <rect x={f.x0} y={f.y0} width={f.x1 - f.x0} height={f.y1 - f.y0} fill="#fff" />
      {xMinor.map((t: number) => (
        <line key={"xm" + t} x1={x(t)} x2={x(t)} y1={f.y0} y2={f.y1} stroke="#F3F3F3" strokeWidth={0.6} />
      ))}
      {yMinor.map((t: number) => (
        <line key={"ym" + t} y1={y(t)} y2={y(t)} x1={f.x0} x2={f.x1} stroke="#F3F3F3" strokeWidth={0.6} />
      ))}
      {cfg.xTicks.map((t: number) => (
        <line key={"xM" + t} x1={x(t)} x2={x(t)} y1={f.y0} y2={f.y1} stroke="#EAEAEA" strokeWidth={0.9} />
      ))}
      {cfg.yTicks.map((t: number) => (
        <line key={"yM" + t} y1={y(t)} y2={y(t)} x1={f.x0} x2={f.x1} stroke="#EAEAEA" strokeWidth={0.9} />
      ))}
      <path d={ellipsePath(cfg.ellipses[0], x, y)} fill="none" stroke={ellipseColors[0]} strokeWidth={1.4} />
      <path d={ellipsePath(cfg.ellipses[1], x, y)} fill="none" stroke={ellipseColors[1]} strokeWidth={1.4} />
      {cfg.exp[0].map((v: number, i: number) => (
        <circle key={"e" + i} cx={x(v)} cy={y(cfg.exp[1][i])} r={4.4} fill={groupColors[0]} stroke="#111" strokeWidth={0.9} />
      ))}
      {cfg.ctrl[0].map((v: number, i: number) => (
        <circle key={"c" + i} cx={x(v)} cy={y(cfg.ctrl[1][i])} r={4.4} fill={groupColors[1]} stroke="#111" strokeWidth={0.9} />
      ))}
      <rect x={f.x0} y={f.y0} width={f.x1 - f.x0} height={f.y1 - f.y0} fill="none" stroke="#333" strokeWidth={1} />
      {cfg.xTicks.map((t: number, i: number) => (
        <g key={"xt" + t}>
          <line x1={x(t)} x2={x(t)} y1={f.y1} y2={f.y1 + 3} stroke="#333" strokeWidth={0.8} />
          <text x={x(t)} y={726.5} textAnchor="middle" fontSize={11.5} fill="#222">
            {cfg.xTickLabels[i]}
          </text>
        </g>
      ))}
      {cfg.yTicks.map((t: number, i: number) => (
        <g key={"yt" + t}>
          <line x1={f.x0 - 3} x2={f.x0} y1={y(t)} y2={y(t)} stroke="#333" strokeWidth={0.8} />
          <text x={f.x0 - 4.5} y={y(t)} dy="0.36em" textAnchor="end" fontSize={11.5} fill="#222">
            {cfg.yTickLabels[i]}
          </text>
        </g>
      ))}
      <text x={(f.x0 + f.x1) / 2} y={739.5} textAnchor="middle" fontSize={12.5}>
        {cfg.pc1}
      </text>
      <text transform={`translate(${f.x0 - 27},${(f.y0 + f.y1) / 2}) rotate(-90)`} textAnchor="middle" fontSize={12.5}>
        {cfg.pc2}
      </text>
      <circle cx={cfg.legend[0]} cy={754} r={4.5} fill={groupColors[0]} stroke="#333" strokeWidth={0.9} />
      <text x={cfg.legend[0] + 8.5} y={758.5} fontSize={12.5}>Exposure</text>
      <circle cx={cfg.legend[1]} cy={754} r={4.5} fill={groupColors[1]} stroke="#333" strokeWidth={0.9} />
      <text x={cfg.legend[1] + 8.5} y={758.5} fontSize={12.5}>Control</text>
      <text x={cfg.nX[0]} y={775} textAnchor="middle" fontSize={12.5}>{cfg.n[0]}</text>
      <text x={cfg.nX[1]} y={775} textAnchor="middle" fontSize={12.5}>{cfg.n[1]}</text>
    </g>
  );
}

function PanelE() {
  const cfgs = [
    {
      frame: { x0: 90, x1: 195, y0: 616.7, y1: 713.3 },
      xDomain: [-1.051, 1.081], yDomain: [-0.828, 0.774],
      exp: [e1ExposurePC1, e1ExposurePC2], ctrl: [e1ControlPC1, e1ControlPC2], ellipses: e1Ellipses,
      titleX: [70, 202], legend: [76.5, 150], nX: [112, 179],
    },
    {
      frame: { x0: 270, x1: 377.5, y0: 615, y1: 711.7 },
      xDomain: [-1.048, 1.029], yDomain: [-0.754, 0.842],
      exp: [e2ExposurePC1, e2ExposurePC2], ctrl: [e2ControlPC1, e2ControlPC2], ellipses: e2Ellipses,
      titleX: [270, 382], legend: [255, 329], nX: [291, 358],
    },
    {
      frame: { x0: 450, x1: 565, y0: 615, y1: 713.3 },
      xDomain: [-1.075, 0.96], yDomain: [-1.01, 0.809],
      exp: [e3ExposurePC1, e3ExposurePC2], ctrl: [e3ControlPC1, e3ControlPC2], ellipses: e3Ellipses,
      titleX: [450, 562], legend: [436, 510], nX: [472, 540],
    },
  ].map((c, i) => ({
    ...c,
    title: eTitles[i], pval: ePValues[i], pc1: ePC1Labels[i], pc2: ePC2Labels[i], n: eNLabels[i],
    xTicks: eXTicks[i], xTickLabels: eXTickLabels[i], yTicks: eYTicks[i], yTickLabels: eYTickLabels[i],
  }));
  return (
    <g>
      <text x={4} y={610} fontSize={20.5}>E</text>
      {cfgs.map((c, i) => (
        <PcaPanel key={i} cfg={c} />
      ))}
    </g>
  );
}

export default function App() {
  return (
    <svg
      width={789}
      height={779}
      viewBox="0 0 789 779"
      style={{ position: "absolute", left: 0, top: 0, background: "#fff" }}
      fontFamily={FONT}
    >
      <rect width={789} height={779} fill="#fff" />
      <PanelA />
      <PanelB />
      <PanelC />
      <PanelD />
      <PanelE />
    </svg>
  );
}
